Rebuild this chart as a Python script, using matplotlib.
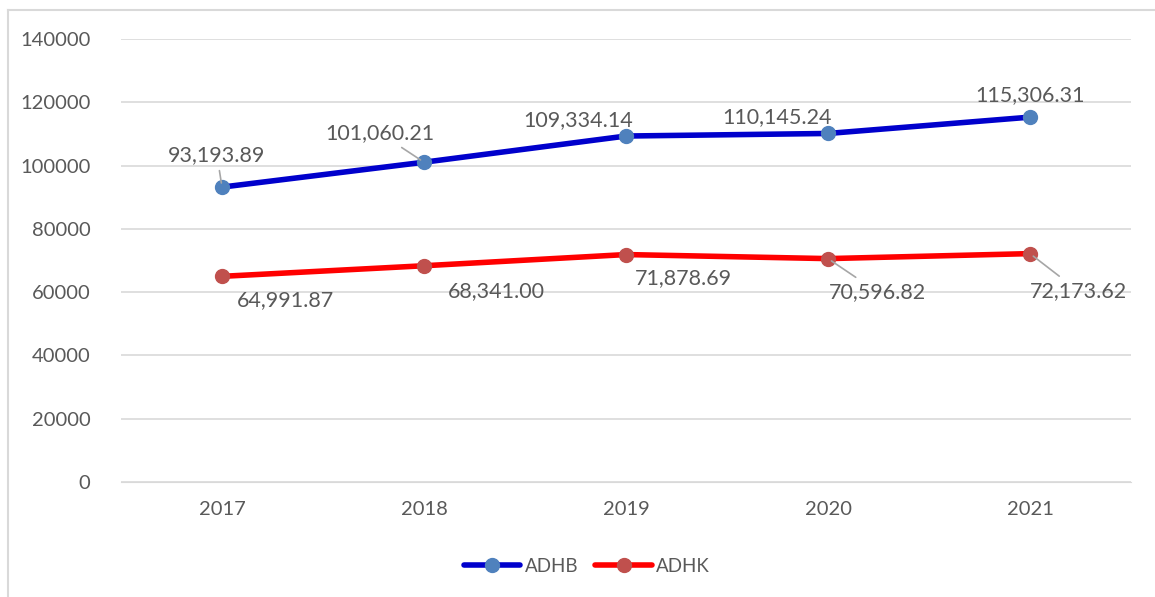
import matplotlib.pyplot as plt
from matplotlib.lines import Line2D

years = ['2017', '2018', '2019', '2020', '2021']
adhb = [93193.89, 101060.21, 109334.14, 110145.24, 115306.31]
adhk = [64991.87, 68341.00, 71878.69, 70596.82, 72173.62]

# label offsets in pixels, and whether Excel drew a leader line
adhb_off = [(-5, 32), (-44, 29), (-48, 16), (-51, 16), (0, 22)]
adhb_lead = [True, True, False, False, False]
adhk_off = [(63, -24), (72, -25), (57, -24), (49, -33), (48, -37)]
adhk_lead = [False, False, False, True, True]

plt.rcParams['font.family'] = ['Lato', 'DejaVu Sans']
txt = '#595959'

fig = plt.figure(figsize=(11.55, 5.97), dpi=100)
ax = fig.add_axes([121/1155, 1 - 482/597, 1010/1155, 443/597])

# outer chart border (left and top visible)
fig.add_artist(Line2D([7.5/1155, 7.5/1155], [0, 1 - 9.5/597], color='#D9D9D9', lw=1.5))
fig.add_artist(Line2D([7.5/1155, 1], [1 - 9.5/597, 1 - 9.5/597], color='#D9D9D9', lw=1.5))

x = list(range(len(years)))
ax.plot(x, adhb, color='#0000CC', lw=4, marker='o', ms=10,
        mfc='#4F81BD', mec='#4F81BD', label='ADHB', zorder=3, solid_capstyle='round')
ax.plot(x, adhk, color='#FF0000', lw=4, marker='o', ms=10,
        mfc='#C0504D', mec='#C0504D', label='ADHK', zorder=3, solid_capstyle='round')

for vals, offs, leads in [(adhb, adhb_off, adhb_lead), (adhk, adhk_off, adhk_lead)]:
    for i, v in enumerate(vals):
        ap = dict(arrowstyle='-', color='#A6A6A6', lw=1.2, shrinkA=2, shrinkB=3) if leads[i] else None
        ax.annotate(f'{v:,.2f}', (i, v), xytext=offs[i], textcoords='offset pixels',
                    ha='center', va='center', fontsize=15.5, color=txt, arrowprops=ap, zorder=4)

ax.set_xlim(-0.5, 4.5)
ax.set_ylim(0, 140000)
ax.set_yticks(range(0, 140001, 20000))
ax.set_xticks(x)
ax.set_xticklabels(years)
ax.grid(axis='y', color='#D9D9D9', lw=1.2)
ax.set_axisbelow(True)
for s in ax.spines.values():
    s.set_visible(False)
ax.spines['bottom'].set_visible(True)
ax.spines['bottom'].set_color('#D9D9D9')
ax.tick_params(length=0, labelsize=14.5, colors=txt, pad=14)
ax.tick_params(axis='y', pad=22)

leg = fig.legend(loc='center', bbox_to_anchor=(587/1155, 1 - 566/597), ncol=2, frameon=False,
                 fontsize=13.5, handlelength=3.0, columnspacing=0.9, handletextpad=0.25)
for t in leg.get_texts():
    t.set_color(txt)

fig.savefig('out.png', dpi=100)
